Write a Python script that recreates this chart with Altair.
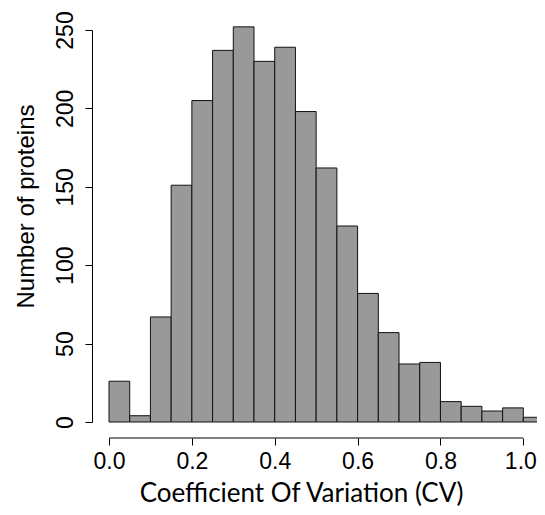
import altair as alt
import pandas as pd

# Histogram bins (left edges) and counts
bin_start = [0.00, 0.05, 0.10, 0.15, 0.20, 0.25, 0.30, 0.35, 0.40, 0.45,
             0.50, 0.55, 0.60, 0.65, 0.70, 0.75, 0.80, 0.85, 0.90, 0.95, 1.00]
counts = [26, 4, 67, 151, 205, 237, 252, 230, 239, 198,
          162, 125, 82, 57, 37, 38, 13, 10, 7, 9, 3]
bin_width = 0.05

x_ticks = [0.0, 0.2, 0.4, 0.6, 0.8, 1.0]
y_ticks = [0, 50, 100, 150, 200, 250]

df = pd.DataFrame({
    "start": bin_start,
    "end": [round(s + bin_width, 2) for s in bin_start],
    "count": counts,
    "base": [0] * len(counts),
})
axis_df = pd.DataFrame({"a": [x_ticks[0]], "b": [x_ticks[-1]]})

W, H = 428, 392
XOFF, YOFF = 16, 17
X_MAX = 1.033  # visible right edge of the plotting region

xscale = alt.Scale(domain=[0, X_MAX], nice=False, zero=False)
yscale = alt.Scale(domain=[0, 250], nice=False)

bars = alt.Chart(df).mark_rect(
    fill="#999999", stroke="#111111", strokeWidth=1, opacity=1
).encode(
    x=alt.X("start:Q", scale=xscale,
            axis=alt.Axis(
                values=x_ticks, format=".1f", domain=False, grid=False,
                tickSize=7, tickColor="black", tickWidth=1, offset=XOFF,
                labelFont="Liberation Sans", labelFontSize=23, labelColor="black",
                labelPadding=5, labelFlush=False,
                labelOffset={"condition": {"test": "datum.value >= 1", "value": -3},
                             "value": 0},
                title="Coefficient Of Variation (CV)",
                titleFont="Lato", titleFontSize=26, titleFontWeight="normal",
                titleColor="black", titleX=192, titleY=63,
                titleAlign="center", titleBaseline="alphabetic",
            )),
    x2="end:Q",
    y=alt.Y("count:Q", scale=yscale,
            axis=alt.Axis(
                values=y_ticks, grid=False, domain=True, domainColor="black",
                domainWidth=1, tickSize=7, tickColor="black", tickWidth=1,
                offset=YOFF, labelAngle=-90, labelAlign="center",
                labelBaseline="alphabetic", labelPadding=13,
                labelFont="Liberation Sans", labelFontSize=23, labelColor="black",
                title="Number of proteins",
                titleFont="Liberation Sans", titleFontSize=24,
                titleFontWeight="normal", titleColor="black",
                titleAngle=-90, titleX=-59, titleY=176,
                titleAlign="center", titleBaseline="alphabetic",
            )),
    y2="base:Q",
)

xaxis_line = alt.Chart(axis_df).mark_rule(color="black", strokeWidth=1).encode(
    x=alt.X("a:Q", scale=xscale),
    x2="b:Q",
    y=alt.value(H + XOFF),
)

chart = alt.layer(bars, xaxis_line).properties(
    width=W, height=H,
    padding={"left": 101, "top": 22, "right": 0, "bottom": 84},
    autosize=alt.AutoSizeParams(type="none"),
    background="white",
).configure_view(stroke=None)

chart.save("out.html", embed_options={"renderer": "svg", "actions": False})
